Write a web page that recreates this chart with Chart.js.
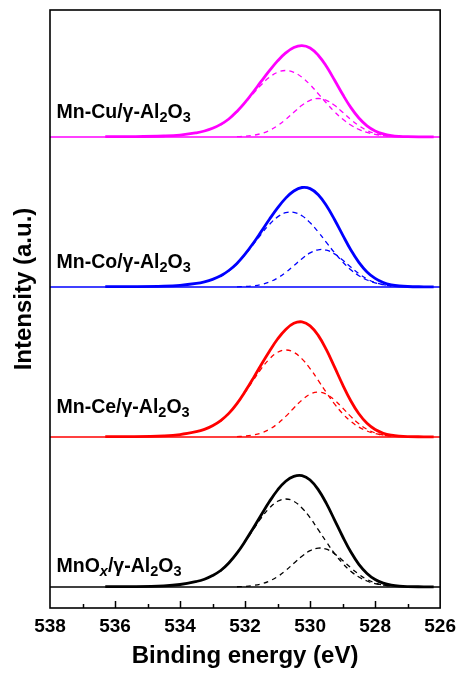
<!DOCTYPE html>
<html>
<head>
<meta charset="utf-8">
<script src="https://cdn.jsdelivr.net/npm/chart.js@4.4.1/dist/chart.umd.min.js"></script>
<style>
  html, body { margin: 0; padding: 0; background: #ffffff; }
  canvas { display: block; }
</style>
</head>
<body>
<canvas id="xps" width="463" height="677"></canvas>
<script>
// O 1s spectra of the four catalysts, stacked with a vertical offset.
const sampleNames = ['MnOx/γ-Al2O3', 'Mn-Ce/γ-Al2O3', 'Mn-Co/γ-Al2O3', 'Mn-Cu/γ-Al2O3'];
const sampleColors = ['#000000', '#ff0000', '#0000ff', '#ff00ff'];
const stackOffsets = [21, 171, 321, 471];

// Binding energy grid (eV) of the measured envelopes
const envelopeEnergy = [536.3, 535.5, 534.5, 534, 533.5, 533.25, 533, 532.75, 532.5, 532.25, 532,
  531.75, 531.5, 531.25, 531, 530.75, 530.5, 530.25, 530, 529.75, 529.5, 529.25, 529,
  528.75, 528.5, 528.25, 528, 527.75, 527.5, 527.25, 527, 526.5, 526.2];

const envelopeMnOx = [0.3, 0.4, 1.2, 2.5, 5.5, 7.8, 11.5, 16.5, 24.0, 33.8, 45.7, 58.8, 72.3, 85.4, 97.0,
  105.8, 110.6, 111.3, 107.0, 97.4, 83.6, 67.2, 50.5, 35.2, 22.7, 13.6, 7.5, 3.9, 1.85, 0.8, 0.4, 0.2, 0.1];
const envelopeCe = [0.3, 0.4, 1.2, 2.4, 5.3, 7.6, 11.2, 16.4, 23.6, 33.4, 45.4, 58.6, 72.5, 85.8, 98.0,
  107.6, 113.7, 115.1, 111.2, 101.6, 87.3, 70.1, 52.4, 36.3, 23.2, 13.7, 7.5, 3.8, 1.8, 0.8, 0.4, 0.2, 0.1];
const envelopeCo = [0.3, 0.4, 0.9, 1.7, 3.6, 5.2, 7.6, 11.2, 16.5, 23.6, 32.9, 43.7, 55.6, 67.7, 79.1,
  88.9, 96.0, 99.5, 98.4, 92.3, 81.5, 67.5, 52.1, 37.2, 24.7, 15.1, 8.6, 4.5, 2.2, 1.0, 0.5, 0.2, 0.1];
const envelopeCu = [0.3, 0.4, 1.0, 1.9, 4.2, 6.0, 8.7, 12.6, 18.0, 25.6, 34.7, 45.0, 55.8, 66.3, 76.1,
  84.1, 89.5, 91.4, 89.0, 81.8, 70.7, 57.0, 42.7, 29.6, 19.0, 11.2, 6.1, 3.1, 1.4, 0.6, 0.3, 0.15, 0.1];

// Binding energy grid (eV) of the fitted components
const componentEnergy = [532.75, 532.5, 532.25, 532, 531.75, 531.5, 531.25, 531, 530.75, 530.5, 530.25,
  530, 529.75, 529.5, 529.25, 529, 528.75, 528.5, 528.25, 528, 527.75, 527.5];

// Higher binding energy component (surface oxygen)
const peakHighMnOx = [15.8, 23.7, 33.5, 45.1, 57.3, 69.2, 79.0, 85.7, 88.0, 85.7, 79.0, 69.2, 57.3, 45.1, 33.5, 23.7, 15.8, 10.0, 6.0, 3.4, 1.9, 0.95];
const peakHighCe   = [15.7, 23.4, 33.1, 44.5, 56.6, 68.4, 78.1, 84.7, 87.0, 84.7, 78.1, 68.4, 56.6, 44.5, 33.1, 23.4, 15.7, 9.9, 6.0, 3.4, 1.8, 0.9];
const peakHighCo   = [10.4, 16.0, 23.3, 32.4, 42.5, 53.0, 62.6, 70.1, 74.3, 74.7, 71.2, 64.3, 55.1, 44.6, 34.4, 25.1, 17.3, 11.3, 7.0, 4.1, 2.3, 1.2];
const peakHighCu   = [12.0, 17.9, 25.3, 34.0, 43.3, 52.3, 59.7, 64.7, 66.5, 64.7, 59.7, 52.3, 43.3, 34.0, 25.3, 17.9, 12.0, 7.6, 4.6, 2.6, 1.4, 0.7];

// Lower binding energy component (lattice oxygen)
const peakLowMnOx = [null, null, 0.24, 0.6, 1.5, 3.1, 6.0, 10.4, 16.5, 23.7, 30.8, 36.3, 38.9, 37.8, 33.3, 26.6, 19.3, 12.7, 7.6, 4.1, 2.0, 0.9];
const peakLowCe   = [null, null, 0.3, 0.9, 2.0, 4.1, 7.7, 13.3, 20.6, 29.0, 37.0, 42.8, 45.0, 42.8, 37.0, 29.0, 20.6, 13.3, 7.7, 4.1, 2.0, 0.9];
const peakLowCo   = [null, null, 0.2, 0.5, 1.2, 2.6, 5.1, 9.0, 14.6, 21.3, 28.3, 34.1, 37.2, 36.9, 33.1, 27.0, 19.9, 13.4, 8.1, 4.5, 2.2, 1.0];
const peakLowCu   = [null, null, 0.3, 0.7, 1.7, 3.5, 6.6, 11.4, 17.6, 24.8, 31.7, 36.7, 38.5, 36.7, 31.7, 24.8, 17.6, 11.4, 6.6, 3.5, 1.7, 0.7];

// Axis range and labelled ticks (eV)
const energyMin = 526;
const energyMax = 538;
const tickLabels = [538, 536, 534, 532, 530, 528, 526];

const envelopes = [envelopeMnOx, envelopeCe, envelopeCo, envelopeCu];
const peaksHigh = [peakHighMnOx, peakHighCe, peakHighCo, peakHighCu];
const peaksLow = [peakLowMnOx, peakLowCe, peakLowCo, peakLowCu];

const FONT = "'Liberation Sans', Arial, Helvetica, sans-serif";

function toPoints(xs, ys, offset) {
  return xs.map((x, i) => ({ x: x, y: ys[i] === null ? null : ys[i] + offset }));
}

const datasets = [];
sampleNames.forEach((name, k) => {
  const off = stackOffsets[k];
  const col = sampleColors[k];
  datasets.push({
    label: name + ' envelope',
    data: toPoints(envelopeEnergy, envelopes[k], off),
    borderColor: col, borderWidth: 2.8, order: 0
  });
  datasets.push({
    label: name + ' component 1',
    data: toPoints(componentEnergy, peaksHigh[k], off),
    borderColor: col, borderWidth: 1.3, borderDash: [5, 4], order: 1
  });
  datasets.push({
    label: name + ' component 2',
    data: toPoints(componentEnergy, peaksLow[k], off),
    borderColor: col, borderWidth: 1.3, borderDash: [5, 4], order: 1
  });
  datasets.push({
    label: name + ' background',
    data: [{ x: energyMax, y: off }, { x: energyMin, y: off }],
    borderColor: col, borderWidth: 1.3, order: 2
  });
});

// Sample names drawn beside each trace, with subscript pieces
const nameParts = [
  [{ t: 'MnO' }, { t: 'x', sub: true, italic: true }, { t: '/γ-Al' }, { t: '2', sub: true }, { t: 'O' }, { t: '3', sub: true }],
  [{ t: 'Mn-Ce/γ-Al' }, { t: '2', sub: true }, { t: 'O' }, { t: '3', sub: true }],
  [{ t: 'Mn-Co/γ-Al' }, { t: '2', sub: true }, { t: 'O' }, { t: '3', sub: true }],
  [{ t: 'Mn-Cu/γ-Al' }, { t: '2', sub: true }, { t: 'O' }, { t: '3', sub: true }]
];
const nameLift = [15.3, 23.7, 18.7, 18.7];

const decorations = {
  id: 'decorations',
  afterDatasetsDraw(chart) {
    const { ctx, chartArea: a, scales } = chart;
    const xs = scales.x, ys = scales.y;
    ctx.save();
    // inward ticks on the energy axis
    ctx.strokeStyle = '#000';
    ctx.lineWidth = 1.5;
    for (let v = energyMin + 1; v < energyMax; v++) {
      const px = Math.round(xs.getPixelForValue(v)) + 0.5;
      const len = v % 2 === 0 ? 7 : 4;
      ctx.beginPath();
      ctx.moveTo(px, a.bottom);
      ctx.lineTo(px, a.bottom - len);
      ctx.stroke();
    }
    // frame
    ctx.lineWidth = 1.6;
    ctx.strokeRect(a.left, a.top, a.right - a.left, a.bottom - a.top);

    // sample names
    ctx.fillStyle = '#000';
    ctx.textBaseline = 'alphabetic';
    ctx.textAlign = 'left';
    nameParts.forEach((parts, k) => {
      let x = xs.getPixelForValue(537.8);
      const y = ys.getPixelForValue(stackOffsets[k] + nameLift[k]);
      parts.forEach(p => {
        ctx.font = (p.italic ? 'italic ' : '') + 'bold ' + (p.sub ? 14.5 : 19.5) + 'px ' + FONT;
        ctx.fillText(p.t, x, p.sub ? y + 4 : y);
        x += ctx.measureText(p.t).width;
      });
    });

    // intensity axis title
    ctx.font = 'bold 24px ' + FONT;
    ctx.textAlign = 'center';
    ctx.textBaseline = 'middle';
    ctx.translate(24, 289);
    ctx.rotate(-Math.PI / 2);
    ctx.fillText('Intensity (a.u.)', 0, 0);
    ctx.restore();
  }
};

new Chart(document.getElementById('xps'), {
  type: 'line',
  data: { datasets: datasets },
  options: {
    responsive: false,
    animation: false,
    events: [],
    layout: { padding: { top: 10, right: 20, left: 0, bottom: 0 } },
    elements: {
      point: { radius: 0 },
      line: { tension: 0.4, fill: false }
    },
    spanGaps: false,
    plugins: { legend: { display: false }, tooltip: { enabled: false } },
    scales: {
      x: {
        type: 'linear',
        position: 'bottom',
        reverse: true,
        min: energyMin,
        max: energyMax,
        afterFit(s) { s.height = 69; },
        grid: { display: false, drawTicks: false },
        border: { display: false },
        afterBuildTicks(s) { s.ticks = tickLabels.map(v => ({ value: v })); },
        ticks: {
          autoSkip: false,
          maxRotation: 0,
          padding: 7,
          color: '#000',
          font: { family: FONT, size: 19, weight: 'bold' },
          callback: v => String(v)
        },
        title: {
          display: true,
          text: 'Binding energy (eV)',
          color: '#000',
          font: { family: FONT, size: 24, weight: 'bold' },
          padding: { top: 0, bottom: 6 }
        }
      },
      y: {
        type: 'linear',
        position: 'left',
        min: 0,
        max: 598,
        afterFit(s) { s.width = 50; },
        grid: { display: false, drawTicks: false },
        border: { display: false },
        ticks: { display: false }
      }
    }
  },
  plugins: [decorations]
});
</script>
</body>
</html>
